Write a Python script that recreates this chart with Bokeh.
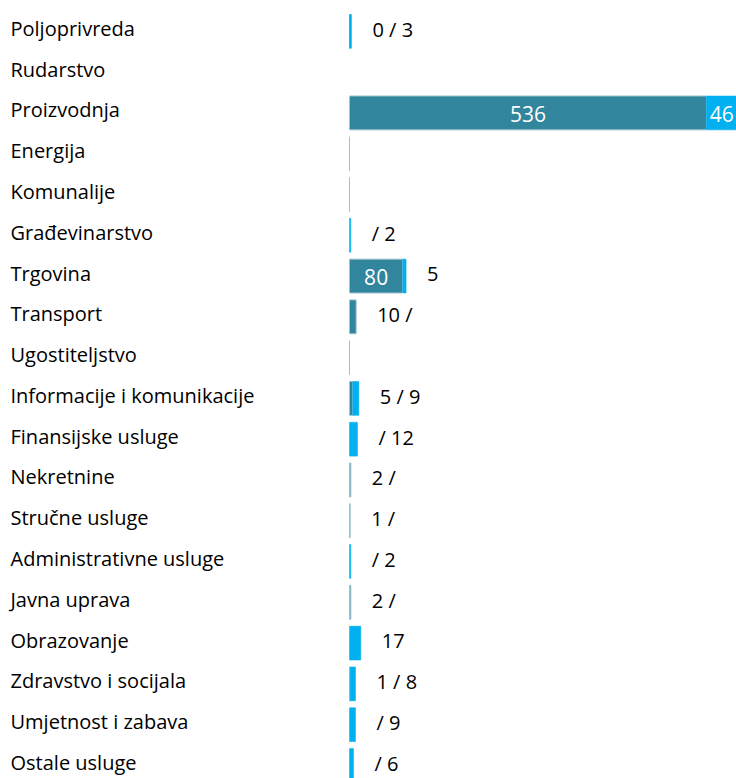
import numpy as np
from bokeh.plotting import figure
from bokeh.models import ColumnDataSource, Range1d
from bokeh.core.properties import value
from bokeh.embed import file_html
from bokeh.resources import INLINE

categories = ["Poljoprivreda", "Rudarstvo", "Proizvodnja", "Energija", "Komunalije",
              "Građevinarstvo", "Trgovina", "Transport", "Ugostiteljstvo",
              "Informacije i komunikacije", "Finansijske usluge", "Nekretnine",
              "Stručne usluge", "Administrativne usluge", "Javna uprava",
              "Obrazovanje", "Zdravstvo i socijala", "Umjetnost i zabava", "Ostale usluge"]
dark_values = [0, None, 536, 0, 0, None, 80, 10, 0, 5, None, 2, 1, None, 2, None, 1, None, None]
light_values = [3, None, 46, None, None, 2, 5, None, None, 9, 12, None, None, 2, None, 17, 8, 9, 6]
outside_labels = ["0 / 3", "", "", "", "", "/ 2", "5", "10 /", "", "5 / 9", "/ 12", "2 /",
                  "1 /", "/ 2", "2 /", "17", "1 / 8", "/ 9", "/ 6"]

DARK = "#31859C"
LIGHT = "#00B0F0"
EDGE = "#9CC3CE"
FONT = "Open Sans"

n = len(categories)
ypos = np.arange(n, dtype=float)
dark = np.array([np.nan if v is None else v for v in dark_values], dtype=float)
light = np.array([np.nan if v is None else v for v in light_values], dtype=float)
light_left = np.nan_to_num(dark)
light_right = light_left + light
total = np.nan_to_num(dark) + np.nan_to_num(light)

x_start, x_end = -524.0, 581.1
p = figure(width=736, height=778, x_range=Range1d(x_start, x_end),
           y_range=Range1d(18.32, -0.757), output_backend="svg",
           toolbar_location=None, x_axis_location=None, y_axis_location=None,
           min_border=0, outline_line_color=None)
p.grid.visible = False

bars = ColumnDataSource(dict(y=ypos, dark=dark, ll=light_left, lr=light_right))
p.hbar(y="y", left=0, right="dark", height=0.83, fill_color=DARK,
       line_color=EDGE, line_width=1, source=bars)
p.hbar(y="y", left="ll", right="lr", height=0.83, fill_color=LIGHT,
       line_color=LIGHT, line_width=0.5, source=bars)

# category labels
cat_src = ColumnDataSource(dict(x=[x_start] * n, y=ypos, t=categories))
p.text(x="x", y="y", text="t", source=cat_src, x_offset=10, y_offset=-3,
       text_align="left", text_baseline="middle", text_color="#000000",
       text_font=value(FONT), text_font_size="20px")

# inside labels (wide segments)
in_x, in_y, in_t = [], [], []
for i in range(n):
    if not np.isnan(dark[i]) and dark[i] >= 50:
        in_x.append(dark[i] / 2); in_y.append(ypos[i]); in_t.append(str(int(dark[i])))
    if not np.isnan(light[i]) and light[i] >= 40:
        in_x.append(light_left[i] + light[i] / 2); in_y.append(ypos[i]); in_t.append(str(int(light[i])))
p.text(x=in_x, y=in_y, text=in_t, text_align="center", text_baseline="middle",
       y_offset=1, text_color="white", text_font=value(FONT), text_font_size="21px")

# outside labels
out_src = ColumnDataSource(dict(x=total, y=ypos, t=outside_labels))
p.text(x="x", y="y", text="t", source=out_src, x_offset=21, y_offset=-2,
       text_align="left", text_baseline="middle", text_color="#000000",
       text_font=value(FONT), text_font_size="20px")

open("out.html", "w").write(file_html(p, INLINE))
